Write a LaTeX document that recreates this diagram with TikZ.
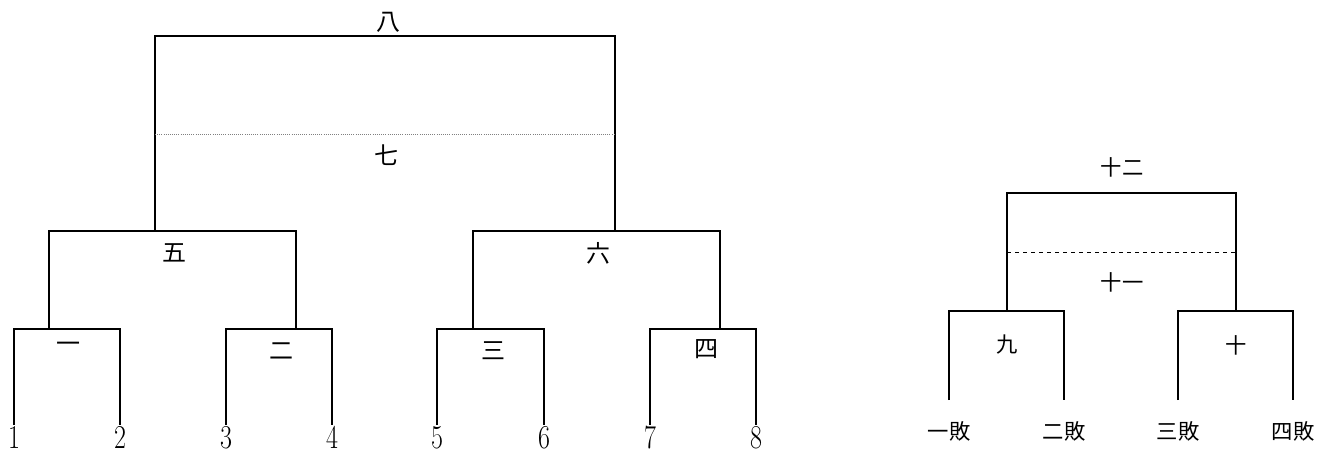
\documentclass[tikz,border=0pt]{standalone}
\usepackage{fontspec}
\newfontfamily\jpfont{Noto Sans CJK JP}
\usetikzlibrary{positioning}

\newcommand{\tallnum}[1]{\scalebox{0.78}[1]{\fontsize{25}{25}\selectfont #1}}

\begin{document}
\begin{tikzpicture}[x=0.75pt,y=-0.75pt,
  line/.style={line width=1.5pt,black},
  thinline/.style={line width=0.9pt,black},
  sep/.style={densely dotted,gray,line width=0.6pt},
  sepr/.style={dashed,black,line width=0.6pt},
  lab/.style={font=\jpfont\fontsize{18}{18}\selectfont,inner sep=0pt},
  slab/.style={font=\jpfont\fontsize{16}{16}\selectfont,inner sep=0pt},
  num/.style={inner sep=0pt,anchor=base}]
  \useasboundingbox (0,0) rectangle (1318,454);
  % main bracket
  \foreach \i/\x in {1/14,2/120,3/226,4/332,5/437,6/544,7/650,8/756}{
    \node[num](n\i) at (\x,448) {\tallnum{\i}};
    \coordinate (t\i) at (\x,425);}
  \coordinate (m1) at (67,329);  \coordinate (m2) at (279,329);
  \coordinate (m3) at (490,329); \coordinate (m4) at (703,329);
  \coordinate (a1) at (49,329);  \coordinate (a2) at (296,329);
  \coordinate (a3) at (473,329); \coordinate (a4) at (720,329);
  \coordinate (m5) at (172,231); \coordinate (m6) at (596,231);
  \coordinate (b5) at (155,231); \coordinate (b6) at (615,231);
  \coordinate (m8) at (385,36);
  \coordinate (d1) at (155,134); \coordinate (d2) at (615,134);
  \draw[line](t1) |- (m1) -| (t2);
  \draw[line](t3) |- (m2) -| (t4);
  \draw[line](t5) |- (m3) -| (t6);
  \draw[line](t7) |- (m4) -| (t8);
  \draw[line](a1) |- (m5) -| (a2);
  \draw[line](a3) |- (m6) -| (a4);
  \draw[line](b5) |- (m8) -| (b6);
  \draw[sep](d1) -- (d2);
  \node[lab](w1) at (68,347) {一};
  \node[lab](w2) at (281,351) {二};
  \node[lab](w3) at (493,351) {三};
  \node[lab](w4) at (706,349) {四};
  \node[lab](w5) at (174,253) {五};
  \node[lab](w6) at (598,253) {六};
  \node[lab](w7) at (386,155) {七};
  \node[lab](w8) at (388,22) {八};
  % losers bracket
  \foreach \i/\x/\t in {1/949/一敗,2/1064/二敗,3/1178/三敗,4/1293/四敗}{
    \node[slab](k\i) at (\x,431) {\t};
    \coordinate (u\i) at (\x,400);}
  \coordinate (m9) at (1007,311); \coordinate (m10) at (1236,311);
  \coordinate (m12) at (1122,193);
  \coordinate (e1) at (1007,252); \coordinate (e2) at (1236,252);
  \draw[thinline](u1) |- (m9) -| (u2);
  \draw[thinline](u3) |- (m10) -| (u4);
  \draw[thinline](m9) |- (m12) -| (m10);
  \draw[sepr](e1) -- (e2);
  \node[slab](w9) at (1007,345) {九};
  \node[slab](w10) at (1236,345) {十};
  \node[slab](w11) at (1122,282) {十一};
  \node[slab](w12) at (1122,167) {十二};
\end{tikzpicture}
\end{document}
